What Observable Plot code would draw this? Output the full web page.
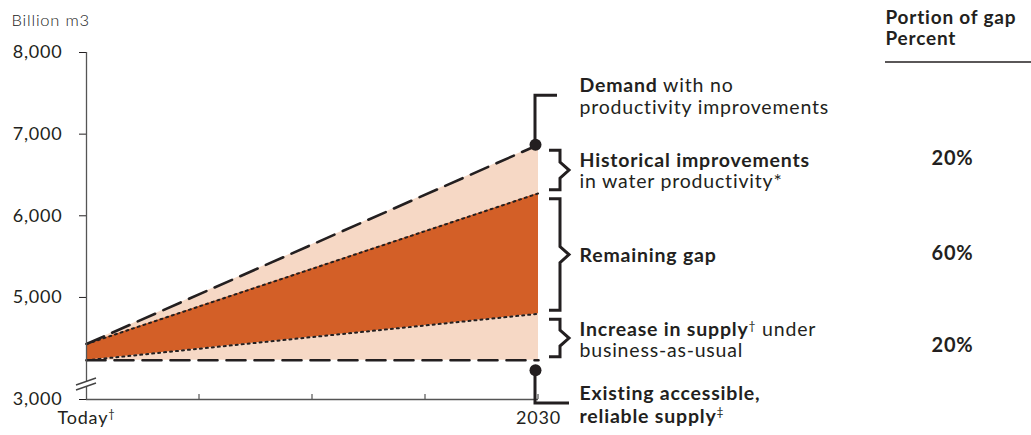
<!DOCTYPE html>
<html><head><meta charset="utf-8">
<script src="https://cdn.jsdelivr.net/npm/d3@7"></script>
<script src="https://cdn.jsdelivr.net/npm/@observablehq/plot@0.6"></script>
<style>
html,body{margin:0;padding:0;background:#fff;}
#chart svg text{letter-spacing:0.8px;}
</style></head><body><div id="chart"></div>
<script>
// ---- data (billion m3) ----
const years = [2010, 2030];                       // "Today" and 2030
const demandNoImprovement = [4430, 6870];
const demandWithHistorical = [4430, 6275];
const supplyExisting = [4230, 4230];
const supplyBusinessAsUsual = [4230, 4800];
const yTicks = [3000, 5000, 6000, 7000, 8000];
const yBreakTo = 3750;                            // axis is broken between 3,000 and this value
const xTicks = [2010, 2015, 2020, 2025, 2030];
const xTickLabels = {2010: "Today†", 2030: "2030"};
const yLabel = "Billion m3";
const headerLines = ["Portion of gap", "Percent"];
const gapComponents = ["Historical improvements", "Remaining gap", "Increase in supply"];
const gapShares = [20, 60, 20];
const demandLines = ["Demand with no", "productivity improvements"];
const historicalLines = ["Historical improvements", "in water productivity*"];
const remainingLines = ["Remaining gap"];
const increaseLines = ["Increase in supply† under", "business-as-usual"];
const existingLines = ["Existing accessible,", "reliable supply‡"];
const boldPrefixes = ["Demand", "Historical improvements", "Remaining gap", "Increase in supply", "Existing accessible,", "reliable supply"];

// ---- derived ----
const table = years.map((year, i) => ({
  year,
  demand: demandNoImprovement[i],
  improved: demandWithHistorical[i],
  supply: supplyExisting[i],
  bau: supplyBusinessAsUsual[i]
}));
const end = table[table.length - 1];
const bands = [
  {name: gapComponents[0], top: end.demand, bottom: end.improved, share: gapShares[0]},
  {name: gapComponents[1], top: end.improved, bottom: end.bau, share: gapShares[1]},
  {name: gapComponents[2], top: end.bau, bottom: end.supply, share: gapShares[2]}
];
const mid = b => (b.top + b.bottom) / 2;
// tick positions: the broken axis shows 3,000 at its bottom
const yTickPositions = yTicks.map(v => Math.max(v, yBreakTo));
const yTickText = d => d3.format(",")(yTicks[yTickPositions.indexOf(d)]);

const INK = "#231f20";
const PEACH = "#f6d8c5";
const ORANGE = "#d35f27";
const FONT = "Lato, 'Open Sans', sans-serif";

function lineMarks(lines, yValue, dys) {
  return lines.map((t, i) => Plot.text([t], {
    x: () => end.year, y: () => yValue, text: d => d,
    textAnchor: "start", dx: 41, dy: dys[i], fontSize: 19.5, fill: INK
  }));
}

function decorations(index, scales, values, dims) {
  const {x, y} = scales;
  const g = d3.create("svg:g");
  const xe = x(end.year);
  const x0 = x(years[0]);
  const yb = dims.height - dims.marginBottom;
  // x-axis inner ticks
  for (const t of xTicks.slice(1)) {
    g.append("line").attr("x1", x(t)).attr("x2", x(t)).attr("y1", yb).attr("y2", yb - 5)
      .attr("stroke", "#555").attr("stroke-width", 1.2);
  }
  // axis break
  const yBr = yb - 18;
  g.append("path").attr("d", `M${x0-10},${yBr+4}L${x0+10},${yBr-3}L${x0+10},${yBr+2}L${x0-10},${yBr+9}Z`).attr("fill", "#fff");
  g.append("path").attr("d", `M${x0-10},${yBr+4}L${x0+10},${yBr-3}M${x0-10},${yBr+9}L${x0+10},${yBr+2}`)
    .attr("stroke", "#444").attr("stroke-width", 1.4).attr("fill", "none");
  const s = g.append("g").attr("fill", "none").attr("stroke", INK).attr("stroke-width", 3);
  // braces
  const brace = (yt, yb2) => {
    const m = (yt + yb2) / 2, tip = xe + 11, spine = xe + 22, point = xe + 31;
    return `M${tip},${yt}H${spine}V${m - 8}L${point},${m}L${spine},${m + 8}V${yb2}H${tip}`;
  };
  for (const b of bands) s.append("path").attr("d", brace(y(b.top) + 6, y(b.bottom) - 3));
  // demand bracket
  const yd = y(end.demand);
  s.append("path").attr("d", `M${xe - 3},${yd}V${yd - 49}H${xe + 19}`);
  // existing supply bracket
  const ys = y(end.supply) + 10;
  s.append("path").attr("d", `M${xe - 3},${ys}V${yb + 4}H${xe + 31}`);
  // header underline
  g.append("line").attr("x1", xe + 347).attr("x2", dims.width).attr("y1", y(8000) + 10).attr("y2", y(8000) + 10)
    .attr("stroke", INK).attr("stroke-width", 1.5);
  return g.node();
}

const chart = Plot.plot({
  width: 1031,
  height: 435,
  marginLeft: 86, marginRight: 0, marginTop: 52, marginBottom: 36,
  style: {fontFamily: FONT, fontSize: "18px", color: INK, background: "#fff", overflow: "visible"},
  x: {domain: [years[0], years[1]], range: [86, 538], ticks: xTicks, tickFormat: d => xTickLabels[d] ?? "", tickSize: 0, tickPadding: 12, label: null},
  y: {domain: [yBreakTo, 8000], ticks: yTickPositions, tickFormat: yTickText, tickSize: 7, tickPadding: 17, label: null},
  marks: [
    Plot.areaY(table, {x: "year", y1: "supply", y2: "demand", fill: PEACH}),
    Plot.areaY(table, {x: "year", y1: "bau", y2: "improved", fill: ORANGE}),
    Plot.line(table, {x: "year", y: "improved", stroke: INK, strokeWidth: 2, strokeDasharray: "2,4"}),
    Plot.line(table, {x: "year", y: "bau", stroke: INK, strokeWidth: 2, strokeDasharray: "2,4"}),
    Plot.line(table, {x: "year", y: "demand", stroke: INK, strokeWidth: 2.6, strokeDasharray: "19,9"}),
    Plot.line(table, {x: "year", y: "supply", stroke: INK, strokeWidth: 2.6, strokeDasharray: "19,9"}),
    Plot.ruleX([years[0]], {y1: yBreakTo, y2: yTicks[yTicks.length - 1], stroke: "#555", strokeWidth: 1.3}),
    Plot.ruleY([yBreakTo], {x1: years[0], x2: years[1], stroke: "#555", strokeWidth: 1.3}),
    decorations,
    Plot.dot([end], {x: "year", y: "demand", r: 6, fill: INK, dx: -3}),
    Plot.dot([end], {x: "year", y: "supply", r: 6, fill: INK, dx: -3, dy: 10}),
    ...lineMarks(demandLines, end.demand, [-59, -37]),
    ...lineMarks(historicalLines, mid(bands[0]), [-8, 13]),
    ...lineMarks(remainingLines, mid(bands[1]), [2]),
    ...lineMarks(increaseLines, mid(bands[2]), [-7, 14]),
    ...lineMarks(existingLines, end.supply, [33, 56]),
    ...bands.map((b, i) => Plot.text([b], {x: () => end.year, y: mid, text: d => d.share + "%", dx: 414, dy: [-10, 0, 9][i], fontSize: 20, fontWeight: 700, fill: INK})),
    Plot.text([yLabel], {frameAnchor: "top-left", dx: -75, dy: -38, textAnchor: "start", fontSize: 16.5, fontWeight: 300, fill: "#222"}),
    Plot.text([headerLines[0]], {frameAnchor: "top-left", dx: 799, dy: -42, textAnchor: "start", fontSize: 19, fontWeight: 700, fill: INK}),
    Plot.text([headerLines[1]], {frameAnchor: "top-left", dx: 799, dy: -21, textAnchor: "start", fontSize: 19, fontWeight: 700, fill: INK})
  ]
});

// rich text: bold prefixes and superscript daggers
d3.select(chart).selectAll("text").each(function() {
  if (this.querySelector("tspan")) return;
  const s = this.textContent;
  const bp = boldPrefixes.filter(p => s.startsWith(p)).sort((a, b) => b.length - a.length)[0] || "";
  if (!bp && !/[†‡]/.test(s)) return;
  const sel = d3.select(this);
  sel.text(null);
  let raised = false;
  for (const [str, bold] of [[bp, true], [s.slice(bp.length), false]]) {
    for (const piece of str.split(/([†‡])/)) {
      if (!piece) continue;
      const sup = /^[†‡]$/.test(piece);
      const ts = sel.append("tspan").text(piece);
      if (bold) ts.attr("font-weight", 700);
      if (sup) { ts.attr("font-size", "0.62em").attr("dy", "-0.55em"); raised = true; }
      else if (raised) { ts.attr("dy", "0.34em"); raised = false; }
    }
  }
});
document.getElementById("chart").append(chart);
</script>
</body></html>
